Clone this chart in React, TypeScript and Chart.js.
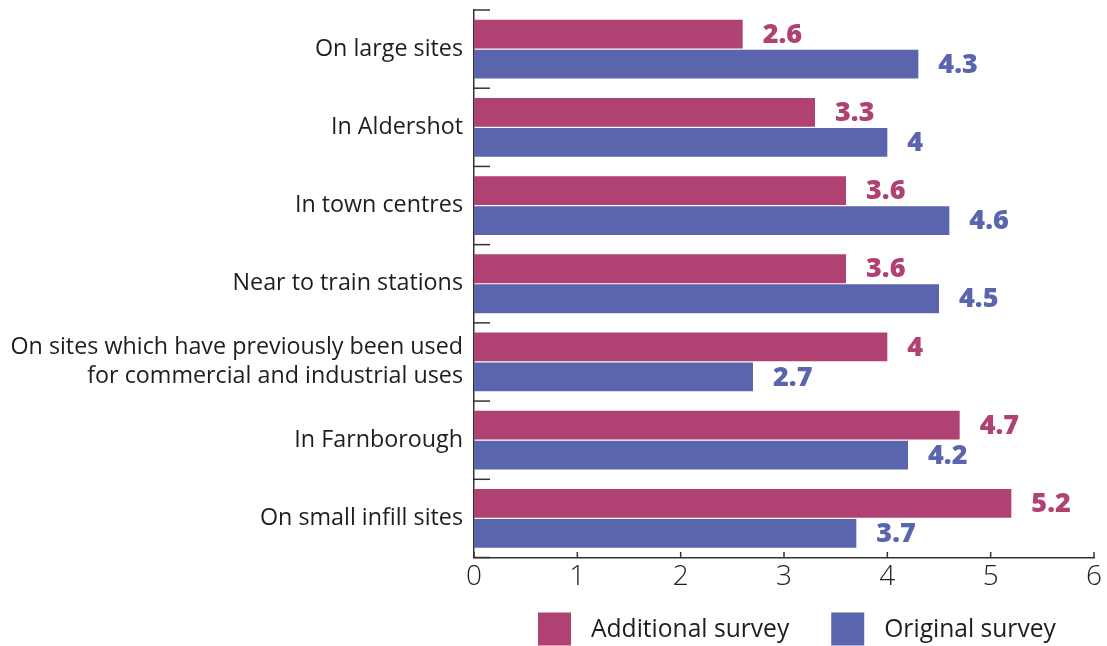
import React, { useEffect, useRef } from "react";
import { Chart, registerables } from "chart.js";

Chart.register(...registerables);

const categories: (string | string[])[] = [
  "On large sites",
  "In Aldershot",
  "In town centres",
  "Near to train stations",
  ["On sites which have previously been used", "for commercial and industrial uses"],
  "In Farnborough",
  "On small infill sites",
];
const additionalSurvey = [2.6, 3.3, 3.6, 3.6, 4, 4.7, 5.2];
const originalSurvey = [4.3, 4, 4.6, 4.5, 2.7, 4.2, 3.7];
const seriesLabels = ["Additional survey", "Original survey"];
const seriesColors = ["#B04173", "#5A65AD"];
const xMin = 0;
const xMax = 6;
const xStep = 1;

const FONT = "'Open Sans', 'DejaVu Sans', sans-serif";
const AXIS_COLOR = "#333333";
const TEXT_COLOR = "#1e1e1e";

const valueLabelPlugin = {
  id: "valueLabels",
  afterDatasetsDraw(chart: any) {
    const ctx = chart.ctx;
    ctx.save();
    ctx.font = `800 27px ${FONT}`;
    ctx.textAlign = "left";
    ctx.textBaseline = "middle";
    chart.data.datasets.forEach((ds: any, di: number) => {
      const meta = chart.getDatasetMeta(di);
      ctx.fillStyle = ds.backgroundColor;
      meta.data.forEach((el: any, i: number) => {
        const v = ds.data[i];
        ctx.fillText(String(v), el.x + 20, el.y + 1);
      });
    });
    ctx.restore();
  },
};

const tickMarksPlugin = {
  id: "tickMarks",
  afterDraw(chart: any) {
    const ys = chart.scales.y;
    const xs = chart.scales.x;
    const ctx = chart.ctx;
    const area = chart.chartArea;
    const n = chart.data.labels.length;
    const band = ys.getPixelForValue(1) - ys.getPixelForValue(0);
    ctx.save();
    ctx.strokeStyle = AXIS_COLOR;
    ctx.lineWidth = 1.5;
    for (let i = 0; i <= n; i++) {
      const y = ys.getPixelForValue(0) - band / 2 + band * i;
      ctx.beginPath();
      ctx.moveTo(area.left, y);
      ctx.lineTo(area.left + 16, y);
      ctx.stroke();
    }
    xs.ticks.forEach((t: any) => {
      const x = xs.getPixelForValue(t.value);
      ctx.beginPath();
      ctx.moveTo(x, area.bottom);
      ctx.lineTo(x, area.bottom - 5.5);
      ctx.stroke();
    });
    ctx.restore();
  },
};

const customLegendPlugin = {
  id: "customLegend",
  afterDraw(chart: any) {
    const ctx = chart.ctx;
    const area = chart.chartArea;
    const box = 33;
    const gapText = 20;
    const gapItem = 42;
    ctx.save();
    ctx.font = `400 24.6px ${FONT}`;
    ctx.textBaseline = "middle";
    ctx.textAlign = "left";
    let x = area.left + 64;
    const top = area.bottom + 55;
    chart.data.datasets.forEach((ds: any) => {
      const w = ctx.measureText(ds.label).width;
      ctx.fillStyle = ds.backgroundColor;
      ctx.fillRect(x, top, box, box);
      ctx.fillStyle = TEXT_COLOR;
      ctx.fillText(ds.label, x + box + gapText, top + box / 2 + 1);
      x += box + gapText + w + gapItem;
    });
    ctx.restore();
  },
};

export default function App() {
  const ref = useRef<HTMLCanvasElement | null>(null);

  useEffect(() => {
    document.body.style.margin = "0";
    if (!ref.current) return;
    const chart = new Chart(ref.current, {
      type: "bar",
      data: {
        labels: categories,
        datasets: [
          {
            label: seriesLabels[0],
            data: additionalSurvey,
            backgroundColor: seriesColors[0],
            categoryPercentage: 0.767,
            barPercentage: 0.96,
          },
          {
            label: seriesLabels[1],
            data: originalSurvey,
            backgroundColor: seriesColors[1],
            categoryPercentage: 0.767,
            barPercentage: 0.96,
          },
        ],
      },
      options: {
        indexAxis: "y",
        responsive: false,
        animation: false,
        layout: { padding: { top: 10, right: 13, bottom: 0, left: 0 } },
        plugins: {
          legend: { display: false },
          tooltip: { enabled: false },
        },
        scales: {
          x: {
            type: "linear",
            min: xMin,
            max: xMax,
            ticks: {
              stepSize: xStep,
              color: TEXT_COLOR,
              font: { family: FONT, size: 28, weight: "300" as any },
              padding: 3,
            },
            grid: {
              display: false,
              drawOnChartArea: false,
              drawTicks: false,
            },
            border: { display: true, color: AXIS_COLOR, width: 1.5 },
            afterFit(s: any) {
              s.height = 88.5;
              s.paddingLeft = 0;
              s.paddingRight = 0;
            },
          },
          y: {
            type: "category",
            offset: true,
            ticks: {
              color: TEXT_COLOR,
              font: { family: FONT, size: 23.3, lineHeight: 1.27 },
              padding: 11,
            },
            grid: { display: false, drawTicks: false },
            border: { display: true, color: AXIS_COLOR, width: 1.5 },
            afterFit(s: any) {
              s.width = 474;
              s.paddingTop = 0;
              s.paddingBottom = 0;
            },
          },
        },
      },
      plugins: [valueLabelPlugin, tickMarksPlugin, customLegendPlugin],
    });
    return () => chart.destroy();
  }, []);

  return (
    <div style={{ width: 1107, height: 646, position: "relative" }}>
      <canvas ref={ref} width={1107} height={646} style={{ display: "block" }} />
    </div>
  );
}
